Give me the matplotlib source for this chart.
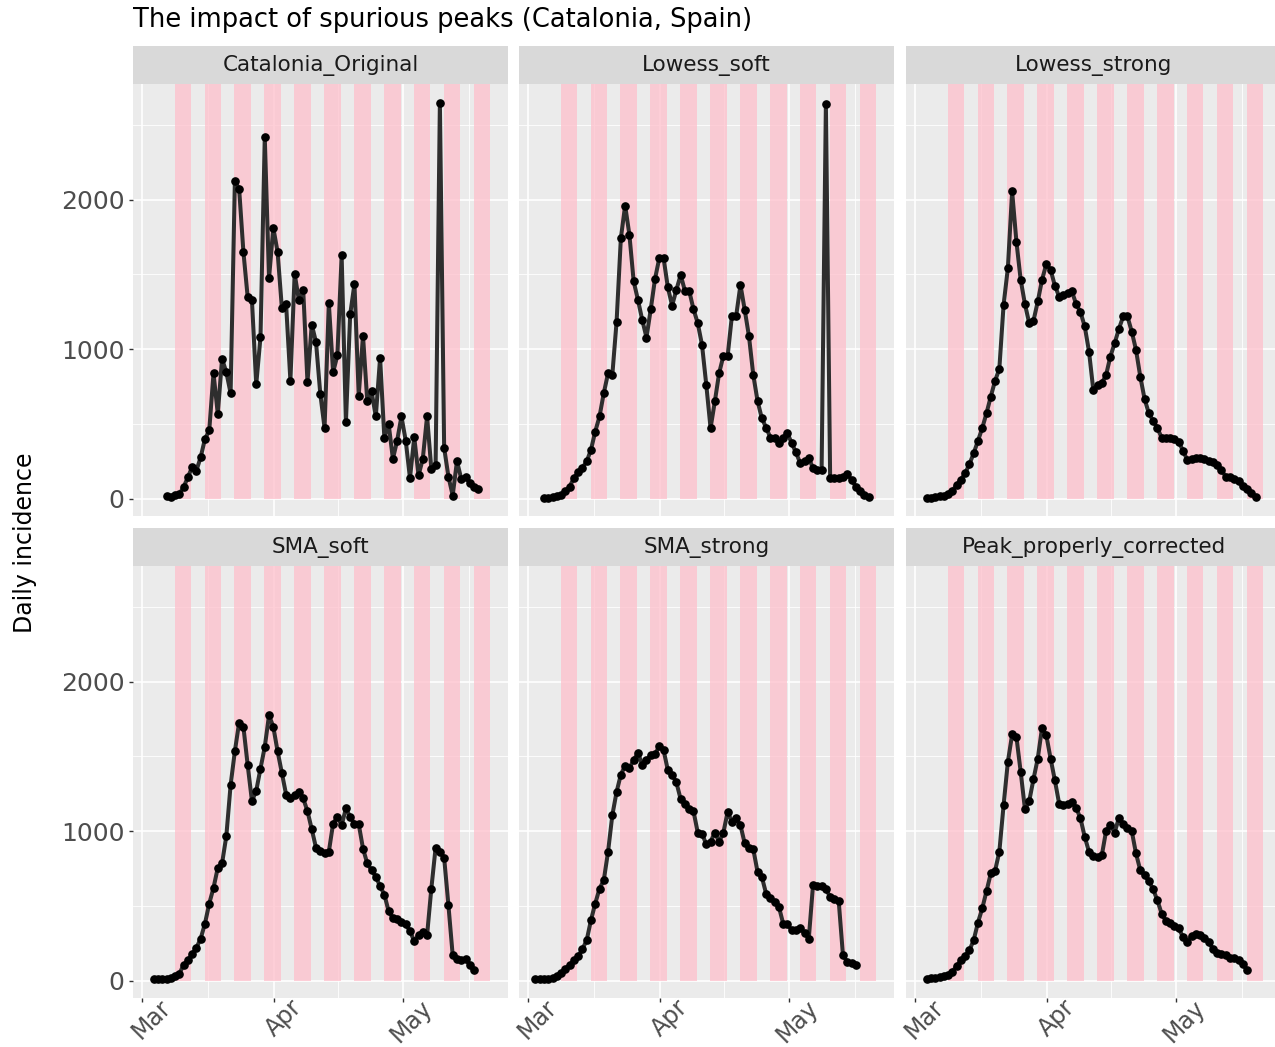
"""Facet grid of smoothed daily incidence series (Catalonia), ggplot-like look."""

import matplotlib

matplotlib.use("Agg")
import matplotlib.pyplot as plt  # noqa: E402
import matplotlib.transforms as mtransforms  # noqa: E402
import pandas as pd  # noqa: E402

TITLE = "The impact of spurious peaks (Catalonia, Spain)"
Y_LABEL = "Daily incidence"

panel_names = ["Catalonia_Original", "Lowess_soft", "Lowess_strong",
               "SMA_soft", "SMA_strong", "Peak_properly_corrected"]

original_start = "2020-03-06"
original = [20, 13, 22, 31, 76, 143, 210, 187, 277, 399,
            455, 838, 566, 934, 845, 705, 2123, 2072, 1650, 1347,
            1325, 763, 1079, 2417, 1474, 1811, 1650, 1276, 1298, 789,
            1503, 1325, 1398, 778, 1164, 1046, 700, 473, 1307, 845,
            957, 1626, 511, 1231, 1436, 689, 1090, 651, 716, 549,
            941, 406, 500, 265, 388, 549, 388, 136, 410, 154,
            265, 549, 198, 221, 2645, 339, 147, 20, 250, 132,
            147, 103, 80, 65]

lowess_soft_start = "2020-03-04"
lowess_soft = [2, 2, 13, 18, 25, 47, 80, 136, 176, 207,
               248, 326, 448, 549, 705, 838, 827, 1184, 1742, 1960,
               1764, 1452, 1329, 1195, 1077, 1267, 1470, 1608, 1608, 1412,
               1291, 1396, 1496, 1389, 1389, 1267, 1173, 1028, 760, 471,
               649, 838, 954, 954, 1222, 1222, 1429, 1262, 1084, 827,
               653, 537, 475, 408, 408, 370, 404, 437, 370, 308,
               236, 248, 270, 203, 192, 192, 2638, 136, 136, 136,
               147, 163, 125, 80, 51, 25, 11]

lowess_strong_start = "2020-03-03"
lowess_strong = [2, 4, 11, 16, 20, 31, 51, 91, 127, 169,
                 230, 303, 386, 471, 571, 682, 787, 867, 1296, 1541,
                 2054, 1719, 1463, 1300, 1173, 1189, 1318, 1463, 1568, 1530,
                 1425, 1351, 1363, 1378, 1385, 1300, 1247, 1151, 983, 727,
                 760, 772, 827, 950, 1039, 1135, 1218, 1218, 1117, 995,
                 816, 667, 571, 520, 471, 408, 408, 406, 397, 381,
                 319, 259, 263, 270, 268, 261, 254, 245, 223, 190,
                 147, 147, 132, 114, 87, 65, 40, 7]

sma_soft_start = "2020-03-03"
sma_soft = [7, 11, 13, 13, 16, 27, 45, 105, 136, 178,
            219, 281, 381, 515, 620, 754, 783, 966, 1307, 1534,
            1726, 1697, 1441, 1200, 1269, 1418, 1563, 1775, 1697, 1534,
            1389, 1244, 1224, 1240, 1258, 1218, 1133, 1012, 888, 867,
            856, 861, 1050, 1095, 1039, 1151, 1095, 1050, 1046, 883,
            783, 738, 694, 631, 575, 464, 415, 410, 392, 375,
            330, 263, 303, 326, 303, 615, 888, 861, 821, 504,
            169, 147, 136, 147, 103, 69]

sma_strong_start = "2020-03-02"
sma_strong = [7, 13, 13, 13, 20, 31, 49, 80, 103, 136,
              163, 210, 270, 404, 515, 615, 671, 861, 1106, 1262,
              1378, 1436, 1423, 1474, 1523, 1445, 1474, 1507, 1512, 1570,
              1541, 1407, 1378, 1325, 1213, 1184, 1146, 1133, 990, 983,
              910, 928, 990, 928, 990, 1128, 1062, 1084, 1039, 917,
              888, 879, 727, 694, 582, 549, 526, 493, 381, 375,
              337, 337, 348, 319, 281, 642, 631, 631, 611, 560,
              544, 533, 169, 125, 116, 107]

peak_corrected_start = "2020-03-03"
peak_corrected = [7, 16, 20, 22, 27, 40, 58, 98, 134, 165,
                  203, 270, 388, 482, 598, 716, 734, 861, 1173, 1463,
                  1646, 1630, 1396, 1146, 1200, 1347, 1485, 1690, 1641, 1485,
                  1340, 1184, 1173, 1184, 1191, 1155, 1084, 961, 861, 832,
                  823, 838, 1001, 1039, 990, 1088, 1044, 1021, 1001, 850,
                  738, 705, 665, 611, 537, 448, 397, 384, 366, 348,
                  292, 259, 297, 312, 303, 285, 259, 210, 187, 178,
                  169, 152, 152, 136, 112, 69]

series_starts = [original_start, lowess_soft_start, lowess_strong_start,
                 sma_soft_start, sma_strong_start, peak_corrected_start]
series_values = [original, lowess_soft, lowess_strong,
                 sma_soft, sma_strong, peak_corrected]

# weekend shading (pink bands), start of each band
weekend_starts = pd.date_range("2020-03-08 15:36", periods=11, freq="7D")
BAND_LEN = pd.Timedelta(days=3.9)
POINT_SHIFT = pd.Timedelta(hours=18)

month_ticks = pd.to_datetime(["2020-03-01", "2020-04-01", "2020-05-01"])
month_labels = ["Mar", "Apr", "May"]
minor_ticks = pd.to_datetime(["2020-03-16 12:00", "2020-04-16 00:00", "2020-05-16 12:00"])
XLIM = (pd.Timestamp("2020-03-01") - pd.Timedelta(days=2.1),
        pd.Timestamp("2020-03-01") + pd.Timedelta(days=85.7))
YLIM = (-117, 2773)

W, H = 1275, 1047
PANEL_BG = "#EBEBEB"
STRIP_BG = "#D9D9D9"
TICK_COL = "#4D4D4D"

fig = plt.figure(figsize=(W / 100, H / 100), dpi=100)
fig.patch.set_facecolor("white")


def px_axes(left, top, width, height):
    return fig.add_axes([left / W, 1 - (top + height) / H, width / W, height / H])


col_left = [133, 519, 906]
row_top = [84, 566]
PW, PH, SH = 375, 432, 38

for i, (name, start, vals) in enumerate(zip(panel_names, series_starts, series_values)):
    row, col = divmod(i, 3)
    ax = px_axes(col_left[col], row_top[row], PW, PH)
    ax.set_facecolor(PANEL_BG)
    ax.set_axisbelow(True)
    for sp in ax.spines.values():
        sp.set_visible(False)

    ax.set_xlim(XLIM)
    ax.set_ylim(YLIM)
    ax.set_xticks(month_ticks)
    ax.set_xticks(minor_ticks, minor=True)
    ax.set_yticks([0, 1000, 2000])
    ax.set_yticks([500, 1500, 2500], minor=True)
    ax.grid(True, which="major", color="white", linewidth=1.2)
    ax.grid(True, which="minor", color="white", linewidth=0.6)
    ax.tick_params(which="minor", length=0)
    ax.tick_params(which="major", length=3, width=1, color="#333333",
                   labelsize=18, labelcolor=TICK_COL, pad=3)
    ax.tick_params(axis="x", which="major", pad=0, labelsize=17)

    y0 = (0 - YLIM[0]) / (YLIM[1] - YLIM[0])
    for s in weekend_starts:
        ax.axvspan(s, s + BAND_LEN, ymin=y0, ymax=1, color="#FFC0CB",
                   alpha=0.75, linewidth=0, zorder=1)

    dates = pd.date_range(start, periods=len(vals), freq="D") + POINT_SHIFT
    ax.plot(dates, vals, color="#2E2E2E", linewidth=2.9, zorder=3)
    ax.plot(dates, vals, "o", color="black", markersize=5.2, zorder=4)

    if col == 0:
        ax.set_yticklabels(["0", "1000", "2000"])
    else:
        ax.tick_params(axis="y", which="both", left=False, labelleft=False)
    if row == 1:
        ax.set_xticklabels(month_labels, rotation=45, ha="center", va="top")
        shift = mtransforms.ScaledTranslation(0.09, 0.07, fig.dpi_scale_trans)
        for lab in ax.get_xticklabels():
            lab.set_transform(lab.get_transform() + shift)
    else:
        ax.tick_params(axis="x", which="both", bottom=False, labelbottom=False)

    strip = px_axes(col_left[col], row_top[row] - SH, PW, SH)
    strip.set_facecolor(STRIP_BG)
    strip.set_xticks([])
    strip.set_yticks([])
    for sp in strip.spines.values():
        sp.set_visible(False)
    strip.text(0.5, 0.5, name, ha="center", va="center", fontsize=15.5,
               color="#1A1A1A", transform=strip.transAxes)

fig.text(133 / W, 1 - 20 / H, TITLE, ha="left", va="center", fontsize=18.5, color="black")
fig.text(25 / W, 1 - 543 / H, Y_LABEL, ha="center", va="center", rotation=90,
         fontsize=17, color="black")

fig.savefig("out.png", dpi=100, facecolor="white")
